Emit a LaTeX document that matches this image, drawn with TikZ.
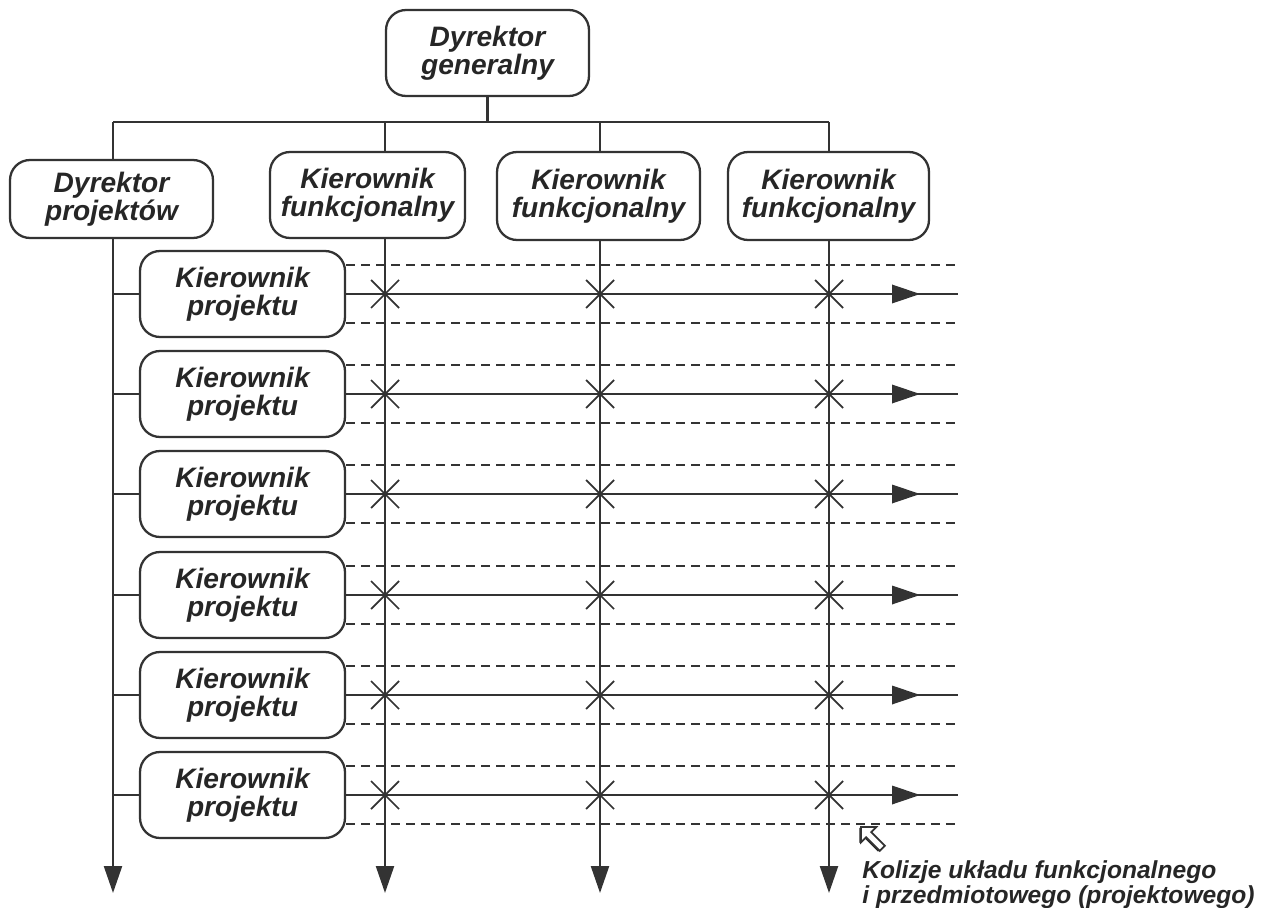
\documentclass[tikz,border=0pt]{standalone}
\usepackage{fontspec}
\setmainfont{Liberation Sans}
\usetikzlibrary{arrows.meta}
\begin{document}
\begin{tikzpicture}[x=0.02cm,y=-0.02cm,
  box/.style={draw=black!80, line width=1.3pt, rounded corners=0.4cm, align=center, inner sep=0pt,
    text=black!85, font=\bfseries\itshape\fontsize{16}{16.2}\selectfont},
  ln/.style={draw=black!80, line width=1.3pt},
  dsh/.style={draw=black!80, line width=1.1pt, dash pattern=on 0.18cm off 0.12cm},
  downarr/.style={ln, -{Triangle[length=0.54cm,width=0.36cm]}},
  xm/.style={draw=black!80, line width=1pt}]
\useasboundingbox (0,0) rectangle (1266,908);

% top level
\node[box, minimum width=4.06cm, minimum height=1.72cm] (gd) at (487.5,53) {Dyrektor\\generalny};
\node[box, minimum width=4.06cm, minimum height=1.56cm] (dp) at (111.5,199) {Dyrektor\\projektów};
\node[box, minimum width=3.9cm, minimum height=1.72cm] (kf1) at (367.5,195) {Kierownik\\funkcjonalny};
\node[box, minimum width=4.06cm, minimum height=1.76cm] (kf2) at (598.5,196) {Kierownik\\funkcjonalny};
\node[box, minimum width=4.02cm, minimum height=1.76cm] (kf3) at (828.5,196) {Kierownik\\funkcjonalny};

% bus
\coordinate (b0) at (113,122);
\coordinate (b1) at (385,122);
\coordinate (b2) at (600,122);
\coordinate (b3) at (829,122);
\draw[ln] (gd.south) -- (gd.south |- b0);
\draw[ln] (b0) -- (b3);
\draw[ln] (b0) -- (b0 |- dp.north);
\draw[ln] (b1) -- (b1 |- kf1.north);
\draw[ln] (b2) -- (b2 |- kf2.north);
\draw[ln] (b3) -- (b3 |- kf3.north);

% bottom arrows
\coordinate (e0) at (113,893);
\coordinate (e1) at (385,893);
\coordinate (e2) at (600,893);
\coordinate (e3) at (829,893);
\draw[downarr] (e0 |- dp.south) -- (e0);
\draw[downarr] (e1 |- kf1.south) -- (e1);
\draw[downarr] (e2 |- kf2.south) -- (e2);
\draw[downarr] (e3 |- kf3.south) -- (e3);

% project rows
\foreach \i/\y in {1/294,2/394,3/494,4/595,5/695,6/795}{
  \node[box, minimum width=4.1cm, minimum height=1.72cm] (kp\i) at (242.5,\y) {Kierownik\\projektu};
  \coordinate (l\i) at (113,\y);
  \coordinate (r\i) at (958,\y);
  \draw[ln] (l\i) -- (kp\i.west);
  \draw[ln] (kp\i.east) -- (r\i);
  \draw[dsh] ([yshift=0.58cm]kp\i.east) -- ([yshift=0.58cm]r\i);
  \draw[dsh] ([yshift=-0.58cm]kp\i.east) -- ([yshift=-0.58cm]r\i);
  \fill[black!80] (892,\y-9.5) -- (920,\y) -- (892,\y+9.5) -- cycle;
  \foreach \xx in {385,600,829}{
    \draw[xm] (\xx-14,\y-14) -- (\xx+14,\y+14) (\xx-14,\y+14) -- (\xx+14,\y-14);
  }
}

% cursor
\begin{scope}[shift={(861,827)}, scale=0.85]
  \fill[black!85] (-2,1) -- (16,1) -- (10,7) -- (26,23) -- (20,29) -- (4,13) -- (-2,19) -- cycle;
  \filldraw[fill=white, draw=black!80, line width=1pt] (0,0) -- (18,0) -- (12,6) -- (28,22) -- (22,28) -- (6,12) -- (0,18) -- cycle;
\end{scope}

\node[anchor=north west, inner sep=0pt, align=left, text=black!85,
  font=\bfseries\itshape\fontsize{14}{14.2}\selectfont] (kol) at (862,860)
  {Kolizje układu funkcjonalnego\\i przedmiotowego (projektowego)};
\end{tikzpicture}
\end{document}
